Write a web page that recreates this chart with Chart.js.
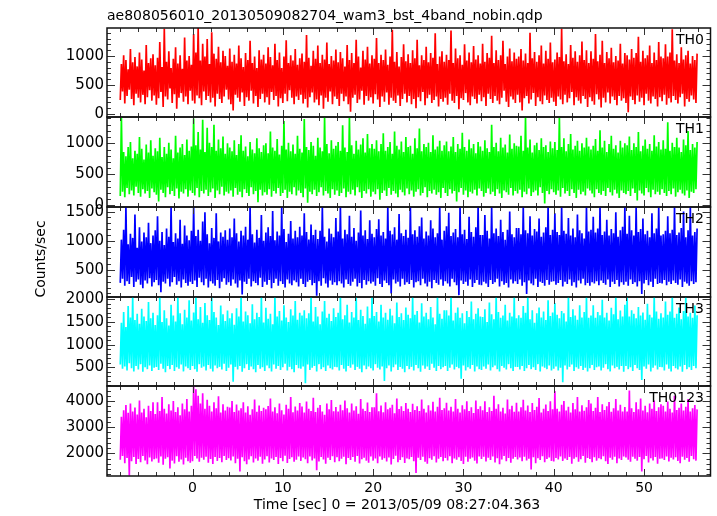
<!DOCTYPE html>
<html>
<head>
<meta charset="utf-8">
<script src="https://cdn.jsdelivr.net/npm/chart.js@4.4.1/dist/chart.umd.min.js"></script>
<style>
  html, body { margin: 0; padding: 0; background: #fff; }
  #wrap { position: relative; width: 717px; height: 516px; overflow: hidden; }
  #wrap canvas { position: absolute; left: 0; top: 0; }
</style>
</head>
<body>
<div id="wrap"></div>
<script>
/* ── labels ─────────────────────────────────────────────────────────────── */
const FILE_TITLE = 'ae808056010_20130509082704_wam3_bst_4band_nobin.qdp';
const X_TITLE = 'Time [sec] 0 = 2013/05/09 08:27:04.363';
const Y_TITLE = 'Counts/sec';
const BANDS = ['TH0', 'TH1', 'TH2', 'TH3', 'TH0123'];

/* ── time axis (bin start + bin width) ──────────────────────────────────── */
const T0 = -8, DT = 0.125;
const X_RANGE = [-9.47, 57.36];
const X_TICKS = [0, 10, 20, 30, 40, 50];

/* ── per-panel y axes ───────────────────────────────────────────────────── */
const Y_RANGES = [[-52, 1482], [-27, 1424], [38, 1579], [88, 2050], [1132, 4574]];
const Y_TICKS = [[0, 500, 1000], [0, 500, 1000], [500, 1000, 1500], [500, 1000, 1500, 2000], [2000, 3000, 4000]];
const Y_MINOR = [100, 100, 100, 100, 200];
const Y_MAJOR = [500, 500, 500, 500, 1000];

/* ── light curves, counts/sec per 0.125 s bin starting at T0 (one row = 4 s) */
const TH0 = [
  240,860,390,1010,180,930,310,770,420,1120,260,890,150,980,350,820,280,1060,200,940,330,750,170,1190,290,880,410,960,230,1030,320,840,
  160,970,270,1240,380,810,120,1470,300,900,250,1080,440,790,190,950,340,1150,90,870,280,1010,360,780,210,1320,300,920,170,1000,400,850,
  230,1380,180,1060,320,1480,270,920,150,1210,390,990,240,1290,310,860,200,1410,280,1040,130,950,350,1160,260,890,190,1090,300,1000,420,830,
  250,1130,170,900,60,1020,330,870,280,1180,210,960,370,810,140,1050,290,930,230,1260,400,880,180,990,310,790,120,1100,260,940,350,1020,
  200,870,290,1150,160,980,380,840,240,1210,310,930,130,1060,270,790,190,990,350,1270,220,880,410,1010,280,920,170,1120,300,850,240,960,
  330,1040,180,900,260,1360,110,970,290,830,370,1090,200,950,250,1180,150,880,320,1020,90,940,280,1230,210,860,390,1000,170,920,300,1110,
  260,890,140,1070,350,960,220,820,300,1190,170,930,40,1050,280,880,330,1280,190,990,250,800,400,1090,160,940,310,1160,230,870,290,1010,
  180,950,340,1310,250,880,120,1020,300,930,210,1110,370,850,160,990,280,1450,230,900,190,1070,320,820,140,980,260,1200,350,910,200,1030,
  310,880,170,1100,260,960,100,1280,290,840,220,1010,380,930,150,1160,270,890,330,1050,190,970,240,1390,300,860,130,990,260,1080,210,900,
  280,1020,160,930,350,1440,230,880,190,1130,310,960,80,1010,270,850,240,1200,360,920,200,1060,150,890,300,1170,260,940,180,1010,330,870,
  220,1210,290,900,140,1050,350,970,260,1350,190,880,310,1100,230,930,170,1010,280,1260,400,860,210,990,120,1130,300,910,250,1060,190,950,
  330,990,200,1120,60,920,270,1040,310,880,180,1400,250,960,360,1070,140,900,290,1010,220,1180,170,870,320,1090,240,950,190,1230,280,890,
  210,940,140,1060,300,980,250,1470,170,910,330,1030,200,860,270,1190,380,970,150,1080,290,900,230,1010,180,1250,310,930,260,1100,120,880,
  290,1080,220,950,160,1380,340,910,250,1020,110,1260,280,880,200,1070,370,960,180,1140,300,890,240,1000,150,920,310,1210,230,870,270,1050,
  190,1010,30,940,300,1120,240,970,170,1050,320,1330,210,900,280,1090,150,960,350,1010,230,1180,180,880,300,1060,260,930,130,1240,290,990,
  220,960,330,1200,160,990,270,1060,200,1460,310,920,240,1030,180,880,290,1150,350,940,130,1010,260,1090,210,870,320,1000,250,930,190,1040
];
const TH1 = [
  150,1410,220,860,130,790,280,940,180,1020,240,760,160,880,300,830,200,1100,140,910,260,740,190,980,230,850,120,1050,270,800,210,920,
  170,870,60,1090,250,780,200,940,130,830,290,1010,180,900,230,760,150,1120,270,850,110,930,220,990,190,810,260,1060,140,880,240,950,
  200,1400,160,970,280,1180,130,900,230,1380,190,860,250,1250,150,1010,210,940,270,1300,120,880,240,1060,180,920,300,1110,160,830,220,1000,
  190,930,240,870,140,1050,280,810,170,990,220,1130,130,880,260,950,200,790,150,1020,290,900,180,840,230,1080,50,920,250,860,160,970,
  210,1000,170,840,260,1190,140,930,230,880,190,1070,280,820,150,960,200,1360,250,900,120,1010,220,870,180,980,290,830,160,1120,240,910,
  200,850,130,1390,270,940,40,890,220,1020,180,960,250,800,150,1090,210,930,290,870,160,1420,230,990,190,840,120,1050,260,910,170,960,
  240,1020,150,880,200,1290,270,930,130,860,220,1410,180,970,250,830,160,1040,290,900,210,980,120,1080,230,850,190,1150,260,920,140,990,
  220,910,180,1050,260,870,90,990,200,1160,240,880,150,940,280,1020,170,830,230,1190,190,960,130,900,250,1030,210,860,160,1100,270,940,
  180,960,240,830,140,1080,220,920,260,1240,160,870,200,990,290,940,130,1010,230,860,190,1130,250,900,170,950,210,1040,120,880,280,970,
  200,1030,150,870,260,950,190,1100,230,860,60,990,210,910,280,1170,170,940,240,880,130,1060,220,920,190,990,250,840,160,1020,270,950,
  230,880,140,1050,200,920,270,860,180,1300,220,940,150,1010,260,870,190,1090,120,930,240,980,210,850,170,1140,280,910,160,1000,230,960,
  190,950,250,1120,130,880,220,1420,180,930,270,1060,150,850,210,970,240,1010,160,890,290,1080,200,940,30,970,230,860,180,1030,260,920,
  210,1020,170,890,240,1410,140,940,280,1080,190,870,230,990,150,1150,260,900,200,960,120,1040,250,880,180,1000,220,930,160,1090,270,950,
  240,900,190,960,130,1070,260,880,200,1210,170,930,230,1040,150,860,280,990,210,1120,160,910,250,970,190,850,120,1040,240,930,200,1000,
  180,970,230,1110,150,890,270,1000,200,940,80,1180,240,870,190,960,160,1060,280,910,210,990,130,880,250,1130,180,950,220,1020,170,900,
  260,1050,200,910,150,1340,230,880,180,1010,270,940,140,1090,210,930,250,860,190,1060,160,970,240,1200,120,890,220,990,200,930,260,1020
];
const TH2 = [
  280,1020,350,1190,230,1580,310,940,260,1120,380,1050,210,1450,300,880,340,1230,250,990,190,1140,320,1060,270,1310,360,960,220,1090,290,1180,
  330,1420,240,1000,120,1150,300,930,270,1210,350,1070,220,1580,290,980,380,1130,250,1040,310,1360,200,950,340,1260,280,1090,230,1010,300,1170,
  260,1580,320,1080,210,1190,370,1000,290,1330,240,1490,350,1110,200,960,310,1220,270,1050,230,1470,330,990,190,1140,300,1070,360,1180,250,1020,
  290,1210,230,1060,340,1380,270,1130,200,990,320,1170,80,1090,300,1240,260,1020,350,1580,220,1110,310,970,280,1190,240,1050,370,1440,210,1000,
  300,1140,250,1230,330,1080,190,1510,280,1010,350,1160,230,1090,310,1580,260,1200,200,980,340,1120,270,1340,240,1040,320,1170,290,1060,220,1240,
  350,1090,260,1470,210,1150,300,1020,330,1280,240,1100,280,1190,60,1030,310,1170,230,1580,360,1070,270,990,200,1210,320,1120,250,1060,290,1390,
  240,1160,310,1580,270,1040,200,1190,340,1110,260,1430,230,1070,300,1220,350,1000,220,1140,280,1520,190,1090,330,1180,250,1030,310,1350,270,1120,
  300,1060,230,1200,360,1370,260,1090,210,1150,320,1040,280,1580,240,1170,100,1110,340,1230,270,1020,300,1460,220,1130,350,1080,250,1190,290,1050,
  260,1580,330,1110,200,1180,290,1070,310,1250,240,1400,350,1040,270,1160,220,1090,300,1350,190,1210,330,1060,280,1130,250,1580,340,1020,230,1170,
  310,1250,270,1480,220,1080,350,1140,290,1200,240,1060,70,1580,320,1110,260,1190,300,1030,230,1410,340,1150,210,1070,280,1230,330,1580,250,1100,
  240,1100,300,1440,270,1170,210,1040,330,1580,260,1130,290,1210,350,1080,220,1360,310,1150,250,1020,280,1190,200,1500,340,1110,270,1060,310,1220,
  260,1220,340,1110,230,1580,290,1180,90,1130,320,1420,270,1090,240,1200,350,1160,210,1380,300,1070,280,1140,230,1230,330,1580,250,1100,300,1190,
  310,1470,250,1150,280,1100,330,1580,220,1170,300,1120,260,1390,340,1090,230,1210,290,1060,200,1450,320,1180,270,1130,350,1040,240,1580,280,1160,
  230,1190,290,1410,270,1140,310,1210,240,1580,320,1100,280,1160,250,1360,340,1090,210,1200,300,1130,260,1490,330,1070,220,1180,290,1240,250,1580,
  300,1120,230,1430,340,1180,260,1090,290,1580,220,1150,310,1200,90,1380,270,1110,330,1170,240,1060,300,1470,210,1130,350,1210,260,1580,280,1090,
  270,1110,330,1170,240,1420,300,1130,260,1190,320,1580,280,1100,250,1140,340,1220,210,1500,300,1060,270,1180,230,1580,310,1090,260,1150,290,1210
];
const TH3 = [
  560,1480,470,1720,520,1390,430,1850,590,1600,480,2050,410,1540,530,1680,450,1460,570,1790,400,1620,500,1520,460,1940,540,1580,420,1700,490,1430,
  510,1650,440,2050,580,1500,470,1760,390,1580,530,1420,460,1880,550,1640,420,1510,500,2050,470,1690,560,1450,410,1770,520,1600,480,1980,440,1530,
  530,1710,460,2050,400,1560,570,1830,490,1480,520,1920,430,1650,550,1540,470,2050,410,1720,540,1600,480,1430,510,1860,450,1670,580,1520,420,1750,
  490,1580,560,1690,180,1440,510,1800,450,1620,530,2050,400,1510,480,1730,570,1650,440,1470,520,1890,460,1560,390,1700,550,1610,470,2050,500,1490,
  420,1810,540,1570,480,1680,410,1450,560,2050,470,1620,530,1740,440,1530,500,1870,580,1600,430,1500,510,1780,460,1640,390,1960,550,1550,480,1700,
  470,1640,520,1760,150,1580,560,1690,440,2050,490,1510,530,1830,410,1620,570,1450,460,1730,500,1960,420,1590,540,1680,480,1520,450,1800,510,1610,
  500,1700,430,2050,550,1560,470,1650,410,1880,530,1490,490,1720,560,1600,440,2050,510,1540,470,1770,390,1630,540,1460,460,1840,520,1580,480,2050,
  430,1630,570,1720,490,1510,450,1880,520,1600,200,1700,480,1550,540,1790,410,1640,500,1470,560,1930,440,1610,510,1690,470,1540,390,1820,530,1660,
  460,1580,510,2050,430,1660,550,1740,480,1490,400,1910,540,1620,470,1700,520,1560,440,1830,580,1600,490,1450,420,2050,530,1680,460,1570,500,1760,
  530,1760,420,1640,490,2050,560,1530,450,1700,510,1820,480,1590,250,1690,540,1470,430,1740,500,1610,470,1950,550,1560,410,1680,520,1800,460,1620,
  440,1610,520,1780,470,1500,560,1930,430,1670,500,1560,540,2050,460,1720,410,1590,530,1640,490,1880,450,1530,570,1700,480,1620,420,2050,510,1580,
  510,1650,450,1590,530,1850,420,1700,480,2050,550,1560,460,1760,500,1480,440,1690,570,1820,410,1600,520,1730,490,1540,460,1980,540,1630,430,1710,
  470,1920,520,1660,430,1580,490,1740,170,1690,540,1510,450,2050,510,1610,560,1780,420,1640,500,1550,470,1870,530,1600,440,1720,490,2050,410,1590,
  480,1640,550,1870,440,1590,500,1720,520,1650,430,1990,490,1600,570,1700,460,1530,410,1810,540,1670,480,2050,510,1560,450,1750,530,1620,400,1880,
  530,2050,460,1620,500,1760,420,1680,550,1580,480,1830,440,1640,220,1710,520,1550,470,1900,560,1660,410,1600,490,2050,540,1730,450,1570,510,1690,
  500,1600,430,1950,560,1660,470,1730,410,2050,530,1590,480,1680,450,1820,520,1560,400,1740,550,2050,460,1620,500,1700,440,1590,530,1860,480,1650
];
const TH0123 = [
  1750,3400,1900,3650,1620,3850,1820,3550,1150,3900,1700,3600,1860,3750,1590,3480,1780,4020,1660,3560,1900,3700,1730,3380,1580,3820,1840,3620,1690,3950,1770,3500,
  1800,3950,1640,3620,1880,4150,1560,3700,1790,3520,1850,3880,1420,3640,1720,4000,1610,3580,1890,3760,1680,3450,1760,3900,1570,3680,1830,4080,1700,3600,1640,3820,
  1700,4570,1900,4450,1800,4200,1680,3900,1830,4300,1750,3700,1870,4050,1640,3820,1780,3600,1590,3950,1860,3720,1710,4180,1820,3560,1660,3880,1900,3640,1740,3780,
  1810,3750,1730,4000,1880,3580,1620,3870,1790,3640,1300,3720,1850,3950,1700,3560,1580,3800,1760,3470,1890,3680,1650,4060,1800,3590,1720,3830,1870,3620,1600,3740,
  1760,3680,1890,3810,1650,4100,1800,3600,1740,3760,1860,3530,1590,3900,1820,3650,1700,3480,1910,3860,1630,3700,1780,4150,1850,3570,1680,3790,1750,3640,1880,3920,
  1710,3790,1840,3560,1770,3980,1620,3700,1880,3620,1730,4120,1800,3580,1350,3740,1690,3850,1860,3600,1760,3470,1600,3900,1830,3680,1740,4040,1890,3610,1660,3770,
  1850,3600,1700,3860,1790,3650,1870,4020,1580,3720,1820,3560,1740,3900,1860,3640,1680,3800,1900,3510,1610,4080,1770,3700,1830,3620,1720,3940,1640,3580,1880,3760,
  1720,3760,1800,4300,1620,3610,1880,3830,1750,3570,1810,3950,1690,3680,1840,3740,1570,3860,1780,3530,1910,4100,1660,3690,1740,3800,1850,3620,1630,3920,1800,3700,
  1770,3580,1860,3890,1700,3660,1250,3800,1830,3620,1740,4060,1870,3700,1680,3560,1600,3840,1810,3640,1750,3970,1890,3600,1650,3780,1790,4120,1860,3660,1700,3720,
  1820,3930,1730,3640,1890,3780,1620,3600,1800,4080,1750,3700,1850,3560,1710,3840,1590,3680,1870,3990,1680,3620,1790,3760,1840,3540,1720,4020,1610,3690,1880,3800,
  1780,3650,1870,3990,1690,3580,1830,3760,1740,3620,1880,4200,1650,3700,1810,3880,1580,3600,1760,3740,1900,3520,1700,4060,1820,3680,1640,3820,1790,3590,1860,3930,
  1760,3600,1840,3760,1700,4050,1870,3640,1730,3830,1790,3580,1380,3920,1850,3660,1620,3780,1810,4110,1740,3560,1890,3700,1660,3870,1780,3620,1840,3990,1710,3680,
  1690,4380,1820,3700,1760,3600,1880,3860,1710,4000,1800,3640,1740,3780,1860,3560,1600,3920,1790,3680,1850,4150,1680,3600,1770,3840,1900,3630,1640,3760,1820,4040,
  1780,3900,1660,3620,1850,3740,1720,4150,1810,3580,1770,3880,1890,3660,1700,3800,1590,3960,1830,3590,1750,3720,1870,4080,1620,3640,1800,3860,1740,3600,1880,3770,
  1840,3600,1750,4400,1680,3720,1870,3580,1790,3950,1720,3680,1860,4100,1300,3640,1770,3820,1900,3570,1650,3900,1810,3700,1730,4020,1860,3620,1600,3760,1790,3880,
  1800,3820,1740,3600,1880,3980,1690,3700,1830,3560,1760,4200,1850,3660,1710,3740,1620,3900,1870,3640,1750,3780,1820,4080,1680,3600,1900,3720,1770,3850,1720,3680
];
const SERIES = [TH0, TH1, TH2, TH3, TH0123];

/* ── look & layout ──────────────────────────────────────────────────────── */
const COLORS = ['#ff0000', '#00ff00', '#0000ff', '#00ffff', '#ff00ff'];
const W = 717, H = 516;
const PANEL_TOP = [28, 117, 207, 297, 386];
const PANEL_BOTTOM = [117, 207, 297, 386, 476];
const PLOT_LEFT = 107, PLOT_RIGHT = 710.5;
const FONT = '"DejaVu Sans", sans-serif';

/* ── inward ticks on all four sides, frame and band label ───────────────── */
const qdpFrame = {
  id: 'qdpFrame',
  afterDatasetsDraw(chart, args, o) {
    const { ctx, chartArea: a } = chart;
    const x = chart.scales.x, y = chart.scales.y;
    ctx.save();
    ctx.strokeStyle = '#333';
    ctx.lineWidth = 1;
    ctx.beginPath();
    for (let t = Math.ceil(x.min / 2) * 2; t <= x.max; t += 2) {
      const px = Math.round(x.getPixelForValue(t)) + 0.5;
      const len = t % 10 === 0 ? 7 : 4;
      ctx.moveTo(px, a.top); ctx.lineTo(px, a.top + len);
      ctx.moveTo(px, a.bottom); ctx.lineTo(px, a.bottom - len);
    }
    for (let v = Math.ceil(y.min / o.minor) * o.minor; v <= y.max; v += o.minor) {
      const py = Math.round(y.getPixelForValue(v)) + 0.5;
      const len = v % o.major === 0 ? 8 : 4;
      ctx.moveTo(a.left, py); ctx.lineTo(a.left + len, py);
      ctx.moveTo(a.right, py); ctx.lineTo(a.right - len, py);
    }
    ctx.stroke();
    ctx.lineWidth = 1.5;
    ctx.strokeStyle = '#111';
    ctx.strokeRect(a.left, a.top, a.right - a.left, a.bottom - a.top);

    ctx.fillStyle = '#000';
    ctx.font = '14px ' + FONT;
    ctx.textAlign = 'right';
    ctx.textBaseline = 'alphabetic';
    ctx.fillText(o.label, 704, a.top + 15.5);

    if (o.global) {
      ctx.textAlign = 'left';
      ctx.fillText(FILE_TITLE, PLOT_LEFT, 19.5);
      ctx.textAlign = 'center';
      ctx.fillText(X_TITLE, 397, 509);
      ctx.translate(41, 259);
      ctx.rotate(-Math.PI / 2);
      ctx.textBaseline = 'middle';
      ctx.fillText(Y_TITLE, 0, 0);
    }
    ctx.restore();
  }
};

/* ── one chart per panel, stacked on the same page area ─────────────────── */
const wrap = document.getElementById('wrap');
SERIES.forEach((vals, i) => {
  const last = i === SERIES.length - 1;
  const cv = document.createElement('canvas');
  cv.width = W; cv.height = H;
  wrap.appendChild(cv);

  new Chart(cv, {
    type: 'line',
    data: {
      datasets: [{
        data: vals.map((v, k) => ({ x: T0 + k * DT, y: v })),
        borderColor: COLORS[i],
        borderWidth: 1.7,
        borderJoinStyle: 'bevel',
        pointRadius: 0,
        tension: 0,
        fill: false
      }]
    },
    options: {
      responsive: false,
      animation: false,
      devicePixelRatio: 1,
      events: [],
      layout: { padding: { top: PANEL_TOP[i], bottom: last ? 0 : H - PANEL_BOTTOM[i], left: 0, right: W - PLOT_RIGHT } },
      plugins: {
        legend: { display: false },
        tooltip: { enabled: false },
        qdpFrame: { label: BANDS[i], minor: Y_MINOR[i], major: Y_MAJOR[i], global: i === 0 }
      },
      scales: {
        x: {
          type: 'linear',
          min: X_RANGE[0], max: X_RANGE[1],
          display: last,
          grid: { display: false, drawTicks: false },
          border: { display: false },
          afterBuildTicks: s => { s.ticks = X_TICKS.map(v => ({ value: v })); },
          afterFit: s => { s.height = last ? H - PANEL_BOTTOM[i] : 0; },
          ticks: { padding: 4, color: '#000', maxRotation: 0, autoSkip: false, font: { family: FONT, size: 14 }, callback: v => String(v) }
        },
        y: {
          type: 'linear',
          min: Y_RANGES[i][0], max: Y_RANGES[i][1],
          grid: { display: false, drawTicks: false },
          border: { display: false },
          afterBuildTicks: s => { s.ticks = Y_TICKS[i].map(v => ({ value: v })); },
          afterFit: s => { s.width = PLOT_LEFT; },
          ticks: { padding: 3, color: '#000', font: { family: FONT, size: 15 }, callback: v => String(v) }
        }
      }
    },
    plugins: [qdpFrame]
  });
});
</script>
</body>
</html>
